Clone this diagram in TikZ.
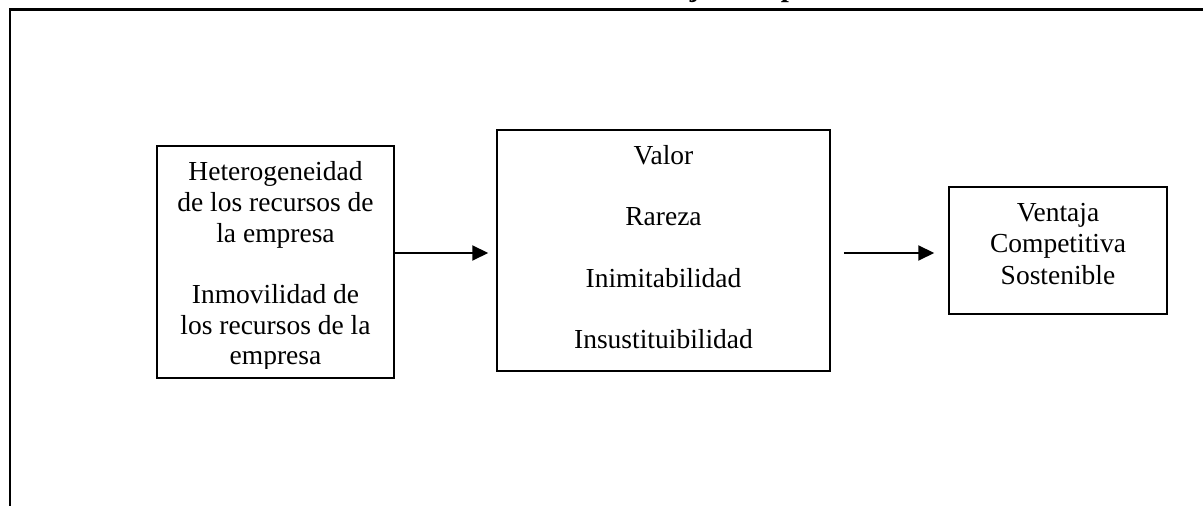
\documentclass[tikz,border=0pt]{standalone}
\usepackage{fontspec}
\setmainfont{Liberation Serif}
\usetikzlibrary{arrows.meta,calc}
\begin{document}
\begin{tikzpicture}[x=0.5pt,y=-0.5pt,
  box/.style={draw, line width=0.75pt, inner sep=0pt},
  lbl/.style={inner sep=0pt, anchor=base, font=\fontsize{13.75pt}{15.35pt}\selectfont},
  arr/.style={line width=1pt, -{Triangle[length=8pt,width=7.5pt]}},
  framestyle/.style={line width=1.25pt}]
\useasboundingbox (0,0) rectangle (1203,506);

% outer frame and heading, cut at the page edge
\begin{scope}
  \clip (0,0) rectangle (1203,506);
  \draw[framestyle] (10,560) -- (10,9.5) -- (1260,9.5);
  \node[font=\bfseries\fontsize{14.5pt}{16pt}\selectfont, inner sep=0pt, anchor=base west]
    (title) at (618,-3) {Ventaja Competitiva};
\end{scope}

% the three boxes
\node[box, minimum width=118.5pt, minimum height=116pt] (b1) at (275.5,262) {};
\node[box, minimum width=166.5pt, minimum height=120.5pt] (b2) at (663.5,250.5) {};
\node[box, minimum width=109pt, minimum height=63.5pt] (b3) at (1058,250.5) {};

% box texts
\begin{scope}
  \clip (b1.north west) rectangle ($(b1.south east)+(0,-10)$);
  \foreach \txt/\k in {Heterogeneidad/0, de los recursos de/1, la empresa/2,
                       Inmovilidad de/4, los recursos de la/5, empresa/6}
    \node[lbl] (b1t\k) at ($(b1.north)+(0,35.5+30.7*\k)$) {\txt};
\end{scope}
\foreach \txt/\k in {Valor/0, Rareza/2, Inimitabilidad/4, Insustituibilidad/6}
  \node[lbl] (b2t\k) at ($(b2.north)+(0,35+30.7*\k)$) {\txt};
\foreach \txt/\k in {Ventaja/0, Competitiva/1, Sostenible/2}
  \node[lbl] (b3t\k) at ($(b3.north)+(0,35+31.5*\k)$) {\txt};

% connectors
\coordinate (ay) at (0,253);
\draw[arr, shorten >=4pt] (b1.east |- ay) -- (b2.west |- ay);
\draw[arr, shorten <=6.5pt, shorten >=7pt] (b2.east |- ay) -- (b3.west |- ay);
\end{tikzpicture}
\end{document}
